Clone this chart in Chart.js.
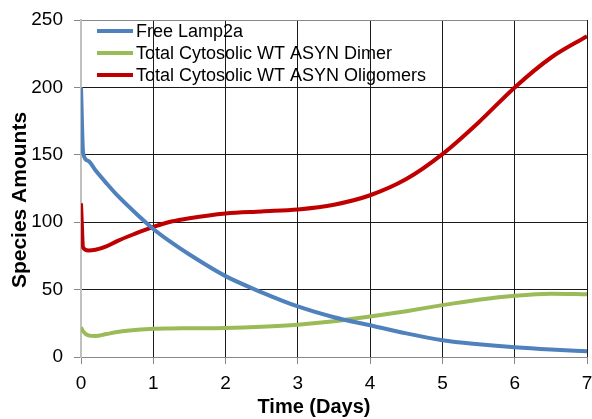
<!DOCTYPE html>
<html>
<head>
<meta charset="utf-8">
<script src="https://cdn.jsdelivr.net/npm/chart.js@4/dist/chart.umd.min.js"></script>
<style>
  html, body { margin: 0; padding: 0; background: #fff; }
  #wrap { width: 592px; height: 419px; }
</style>
</head>
<body>
<div id="wrap"><canvas id="species-chart" width="592" height="419"></canvas></div>
<script>
// time points (days) shared by all three series
const timeDays = [0, 0.03, 0.1, 0.2, 0.35, 0.5, 0.75, 1, 1.25, 1.5, 2, 2.5, 3, 3.5, 4, 4.5, 5, 5.5, 6, 6.5, 7];

const freeLamp2a = [200, 151, 145.5, 138.5, 129, 120, 107, 95, 85, 76, 60, 48, 37.5, 29.5, 23.5, 17.5, 12.5, 9.5, 7.2, 5.5, 4.2];
const dimerTotal = [22, 19, 16, 15.5, 17, 18.5, 20, 21, 21.2, 21.3, 21.6, 22.5, 24, 26.5, 30, 34, 38.5, 42.5, 45.5, 47, 46.5];
const oligomerTotal = [114, 81, 79, 79.5, 82, 86, 91.5, 96.5, 100.5, 103, 106.5, 108, 109.5, 113, 120, 132, 150.5, 174, 200, 222, 238];

const seriesLabels = ['Free Lamp2a', 'Total Cytosolic WT ASYN Dimer', 'Total Cytosolic WT ASYN Oligomers'];
const seriesColors = ['#4F81BD', '#9BBB59', '#C00000'];
const xTicks = [0, 1, 2, 3, 4, 5, 6, 7];
const yTicks = [0, 50, 100, 150, 200, 250];

function toPoints(values) {
  return values.map((v, i) => ({ x: timeDays[i], y: v }));
}

// legend + axis titles drawn by hand so they sit where the original has them
const overlayPlugin = {
  id: 'overlay',
  afterDraw(chart) {
    const ctx = chart.ctx;
    ctx.save();
    // legend inside the plot, top-left
    ctx.font = '18px "Liberation Sans", Arial, sans-serif';
    ctx.textBaseline = 'middle';
    ctx.textAlign = 'left';
    chart.data.datasets.forEach((ds, i) => {
      const y = 31 + i * 22;
      ctx.strokeStyle = ds.borderColor;
      ctx.lineWidth = 4;
      ctx.beginPath();
      ctx.moveTo(97, y);
      ctx.lineTo(133, y);
      ctx.stroke();
      ctx.fillStyle = '#000';
      ctx.fillText(ds.label, 136, y + 1);
    });
    // x title
    ctx.font = 'bold 20px "Liberation Sans", Arial, sans-serif';
    ctx.textAlign = 'center';
    ctx.textBaseline = 'alphabetic';
    ctx.fillText('Time (Days)', 314, 413);
    // y title
    ctx.font = 'bold 21px "Liberation Sans", Arial, sans-serif';
    ctx.translate(26, 200);
    ctx.rotate(-Math.PI / 2);
    ctx.fillText('Species Amounts', 0, 0);
    ctx.restore();
  }
};

const ctx = document.getElementById('species-chart').getContext('2d');
new Chart(ctx, {
  type: 'line',
  data: {
    datasets: [freeLamp2a, dimerTotal, oligomerTotal].map((vals, i) => ({
      label: seriesLabels[i],
      data: toPoints(vals),
      borderColor: seriesColors[i],
      backgroundColor: seriesColors[i],
      borderWidth: 4,
      pointRadius: 0,
      cubicInterpolationMode: 'monotone',
      fill: false
    }))
  },
  options: {
    responsive: false,
    animation: false,
    layout: { padding: { left: 0, top: 20, right: 5, bottom: 0 } },
    plugins: {
      legend: { display: false },
      tooltip: { enabled: false }
    },
    scales: {
      x: {
        type: 'linear',
        min: 0,
        max: 7,
        afterBuildTicks: scale => { scale.ticks = xTicks.map(v => ({ value: v })); },
        afterFit: scale => {
          scale.height = 62;
          scale.paddingLeft = 0;
          scale.paddingRight = 0;
        },
        ticks: {
          font: { family: '"Liberation Sans", Arial, sans-serif', size: 19 },
          color: '#000',
          padding: 8,
          maxRotation: 0
        },
        grid: {
          color: c => (c.tick && c.tick.value === 0) ? 'rgba(0,0,0,0)' : '#1a1a1a',
          lineWidth: 1,
          tickLength: 7,
          tickColor: '#888'
        },
        border: { color: '#888', width: 1 }
      },
      y: {
        min: 0,
        max: 250,
        afterBuildTicks: scale => { scale.ticks = yTicks.map(v => ({ value: v })); },
        afterFit: scale => {
          scale.width = 81;
          scale.paddingTop = 0;
          scale.paddingBottom = 0;
        },
        ticks: {
          font: { family: '"Liberation Sans", Arial, sans-serif', size: 19 },
          color: '#000',
          padding: 11
        },
        grid: {
          color: c => {
            if (!c.tick) return '#1a1a1a';
            if (c.tick.value === 0) return 'rgba(0,0,0,0)';
            if (c.tick.value === 250) return '#888';
            return '#1a1a1a';
          },
          lineWidth: 1,
          tickLength: 7,
          tickColor: '#888'
        },
        border: { color: '#c0c0c0', width: 2 }
      }
    }
  },
  plugins: [overlayPlugin]
});
</script>
</body>
</html>
